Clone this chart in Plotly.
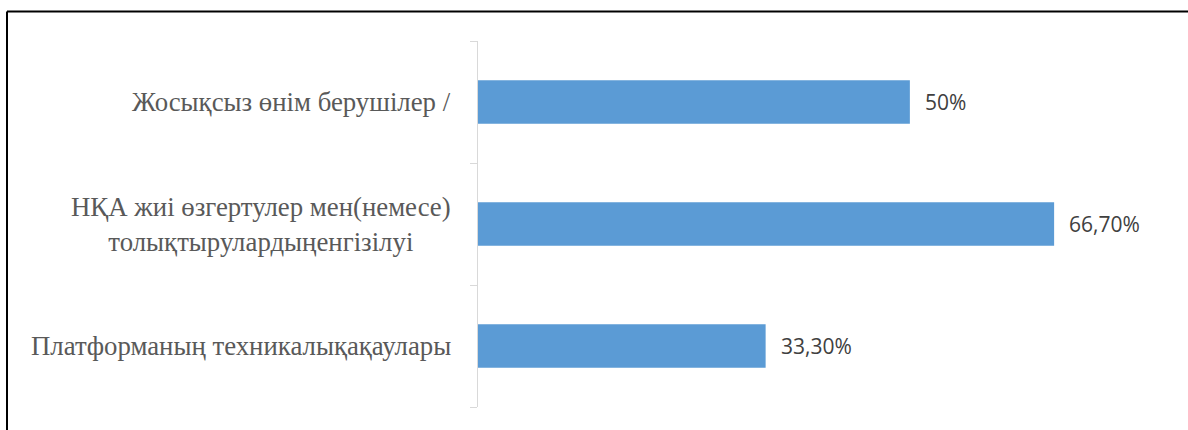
import plotly.graph_objects as go

categories = [
    "Платформаның техникалықақаулары",
    "НҚА жиі өзгертулер мен(немесе)<br>толықтырулардыңенгізілуі",
    "Жосықсыз өнім берушілер /",
]
values = [33.3, 66.7, 50.0]
value_labels = ["33,30%", "66,70%", "50%"]

W, H = 1188, 430
L, R, T, B = 478, 19, 41, 23
pw, ph = W - L - R, H - T - B

fig = go.Figure()
fig.add_trace(go.Bar(
    y=categories, x=values, orientation="h",
    marker=dict(color="#5B9BD5", line=dict(width=0)),
    width=0.355, hoverinfo="skip",
))

annotations = []
for c, v, t in zip(categories, values, value_labels):
    annotations.append(dict(
        x=v, y=c, xref="x", yref="y", text=t, showarrow=False,
        xanchor="left", yanchor="middle", xshift=13,
        font=dict(family="Open Sans", size=21, color="#404040"),
    ))
    annotations.append(dict(
        x=0, y=c, xref="paper", yref="y", text=c, showarrow=False,
        xanchor="right", yanchor="middle", xshift=-25, align="center",
        font=dict(family="Liberation Serif", size=26.8, color="#595959"),
    ))

def px_x(p):
    return (p - L) / pw

def px_y(p):
    return (H - B - p) / ph

shapes = [
    dict(type="line", xref="paper", yref="paper",
         x0=px_x(7), x1=px_x(1200), y0=px_y(11.5), y1=px_y(11.5),
         line=dict(color="black", width=2)),
    dict(type="line", xref="paper", yref="paper",
         x0=px_x(7), x1=px_x(7), y0=px_y(11.5), y1=px_y(440),
         line=dict(color="black", width=2)),
]

fig.update_layout(
    width=W, height=H,
    margin=dict(l=L, r=R, t=T, b=B),
    paper_bgcolor="white", plot_bgcolor="white",
    showlegend=False,
    annotations=annotations,
    shapes=shapes,
    xaxis=dict(range=[0, 80], showgrid=False, zeroline=False,
               showticklabels=False, showline=False, ticks=""),
    yaxis=dict(type="category", categoryorder="array", categoryarray=categories,
               showticklabels=False, showline=True, linecolor="#D9D9D9", linewidth=1,
               ticks="outside", tickson="boundaries", ticklen=7, tickcolor="#D9D9D9",
               showgrid=False, zeroline=False),
)

fig.write_html("out.html", config={"displayModeBar": False},
               post_script="document.body.style.margin='0';")
